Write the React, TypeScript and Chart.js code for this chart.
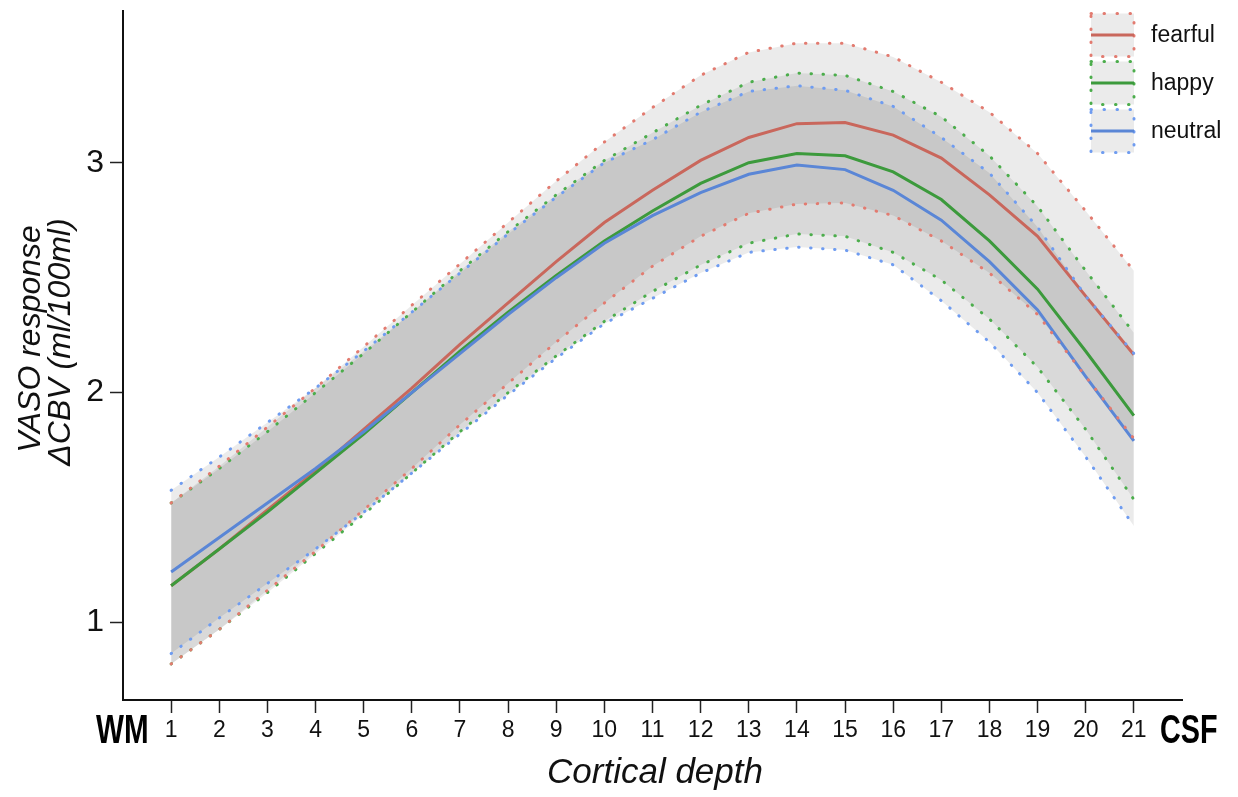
import React, { useEffect, useRef } from 'react';
import { Chart, registerables } from 'chart.js';

Chart.register(...registerables);

// ---------- data ----------
const DEPTHS = [1, 2, 3, 4, 5, 6, 7, 8, 9, 10, 11, 12, 13, 14, 15, 16, 17, 18, 19, 20, 21];
const X_TICKS = DEPTHS;
const Y_TICKS = [1, 2, 3];
const SERIES_NAMES = ['fearful', 'happy', 'neutral'];

const FEARFUL_MEAN = [1.16, 1.32, 1.49, 1.66, 1.84, 2.02, 2.21, 2.39, 2.57, 2.74, 2.88, 3.01, 3.11, 3.17, 3.175, 3.12, 3.02, 2.86, 2.68, 2.42, 2.165];
const FEARFUL_UPPER = [1.52, 1.68, 1.85, 2.02, 2.2, 2.38, 2.56, 2.74, 2.92, 3.09, 3.24, 3.38, 3.48, 3.52, 3.52, 3.46, 3.35, 3.22, 3.04, 2.79, 2.53];
const FEARFUL_LOWER = [0.82, 0.97, 1.14, 1.31, 1.49, 1.67, 1.86, 2.04, 2.22, 2.39, 2.55, 2.68, 2.78, 2.82, 2.825, 2.77, 2.66, 2.52, 2.34, 2.07, 1.8];

const HAPPY_MEAN = [1.16, 1.32, 1.48, 1.65, 1.82, 2.0, 2.18, 2.35, 2.51, 2.66, 2.79, 2.91, 3.0, 3.04, 3.03, 2.96, 2.84, 2.66, 2.45, 2.18, 1.9];
const HAPPY_UPPER = [1.52, 1.67, 1.83, 2.0, 2.17, 2.35, 2.53, 2.7, 2.86, 3.01, 3.13, 3.25, 3.35, 3.39, 3.38, 3.31, 3.2, 3.03, 2.81, 2.53, 2.26];
const HAPPY_LOWER = [0.82, 0.97, 1.13, 1.3, 1.47, 1.65, 1.83, 2.0, 2.16, 2.31, 2.44, 2.555, 2.65, 2.69, 2.68, 2.61, 2.49, 2.32, 2.11, 1.84, 1.535];

const NEUTRAL_MEAN = [1.22, 1.37, 1.52, 1.67, 1.83, 2.0, 2.17, 2.34, 2.5, 2.65, 2.77, 2.87, 2.95, 2.99, 2.97, 2.88, 2.75, 2.57, 2.36, 2.07, 1.79];
const NEUTRAL_UPPER = [1.575, 1.72, 1.87, 2.02, 2.18, 2.35, 2.52, 2.69, 2.85, 3.0, 3.1, 3.22, 3.31, 3.335, 3.315, 3.245, 3.11, 2.955, 2.72, 2.42, 2.17];
const NEUTRAL_LOWER = [0.865, 1.02, 1.17, 1.32, 1.48, 1.65, 1.82, 1.99, 2.15, 2.3, 2.41, 2.52, 2.61, 2.633, 2.62, 2.556, 2.4, 2.22, 2.0, 1.72, 1.42];

// ---------- styles ----------
const LINE_COLORS = ['#c9675c', '#3c9a3c', '#5a86d6'];
const DOT_COLORS = ['#e27b70', '#4cad4c', '#6f9cf0'];
const BAND_FILL = 'rgba(0,0,0,0.08)';
const FONT = '"Liberation Sans", Arial, Helvetica, sans-serif';

const toPts = (ys: number[]) => DEPTHS.map((x, i) => ({ x, y: ys[i] }));

const bandSet = (ys: number[], idx: number, fill: any, order: number) => ({
  data: toPts(ys),
  borderColor: DOT_COLORS[idx],
  borderWidth: 3,
  borderDash: [0.5, 11.5],
  borderCapStyle: 'round',
  backgroundColor: BAND_FILL,
  fill,
  pointRadius: 0,
  tension: 0,
  order,
});

const meanSet = (ys: number[], idx: number, order: number) => ({
  data: toPts(ys),
  borderColor: LINE_COLORS[idx],
  borderWidth: 3,
  fill: false,
  pointRadius: 0,
  tension: 0,
  order,
});

function drawCondensed(ctx: CanvasRenderingContext2D, text: string, x: number, y: number, sx: number) {
  ctx.save();
  ctx.translate(x, y);
  ctx.scale(sx, 1);
  ctx.textAlign = 'left';
  ctx.textBaseline = 'alphabetic';
  ctx.fillText(text, 0, 0);
  ctx.restore();
}

const decorPlugin = {
  id: 'decor',
  afterDraw(chart: any) {
    const ctx: CanvasRenderingContext2D = chart.ctx;
    ctx.save();
    ctx.fillStyle = '#000';

    // WM / CSF end labels
    ctx.font = `bold 40px ${FONT}`;
    drawCondensed(ctx, 'WM', 96, 743, 0.74);
    drawCondensed(ctx, 'CSF', 1160, 743, 0.72);

    // y title
    ctx.font = `italic 32px ${FONT}`;
    ctx.textAlign = 'center';
    ctx.textBaseline = 'middle';
    ctx.fillStyle = '#111';
    ctx.save();
    ctx.translate(31, 339);
    ctx.rotate(-Math.PI / 2);
    ctx.fillText('VASO response', 0, 0);
    ctx.restore();
    ctx.save();
    ctx.translate(61, 342);
    ctx.rotate(-Math.PI / 2);
    ctx.fillText('\u0394CBV (ml/100ml)', 0, 0);
    ctx.restore();

    // x title
    ctx.font = `italic 35px ${FONT}`;
    ctx.textAlign = 'center';
    ctx.textBaseline = 'middle';
    ctx.fillText('Cortical depth', 655, 773);

    // legend
    const centers = [35, 83, 131];
    const bx0 = 1091;
    const bx1 = 1134;
    const half = 21.5;
    SERIES_NAMES.forEach((name, i) => {
      const cy = centers[i];
      ctx.fillStyle = '#ebebeb';
      ctx.fillRect(bx0, cy - half, bx1 - bx0, half * 2);
      ctx.save();
      ctx.strokeStyle = DOT_COLORS[i];
      ctx.lineWidth = 3;
      ctx.lineCap = 'round';
      ctx.setLineDash([0.5, 12.5]);
      ctx.strokeRect(bx0, cy - half, bx1 - bx0, half * 2);
      ctx.restore();
      ctx.save();
      ctx.strokeStyle = LINE_COLORS[i];
      ctx.lineWidth = 3;
      ctx.beginPath();
      ctx.moveTo(bx0, cy);
      ctx.lineTo(bx1, cy);
      ctx.stroke();
      ctx.restore();
      ctx.fillStyle = '#111';
      ctx.font = `23px ${FONT}`;
      ctx.textAlign = 'left';
      ctx.textBaseline = 'middle';
      ctx.fillText(name, 1151, cy + 1);
    });
    ctx.restore();
  },
};

export default function App() {
  const ref = useRef<HTMLCanvasElement | null>(null);

  useEffect(() => {
    if (!ref.current) return;
    const chart = new Chart(ref.current, {
      type: 'line',
      data: {
        datasets: [
          bandSet(FEARFUL_UPPER, 0, '+1', 1),
          bandSet(FEARFUL_LOWER, 0, false, 1),
          bandSet(HAPPY_UPPER, 1, '+1', 1),
          bandSet(HAPPY_LOWER, 1, false, 1),
          bandSet(NEUTRAL_UPPER, 2, '+1', 1),
          bandSet(NEUTRAL_LOWER, 2, false, 1),
          meanSet(FEARFUL_MEAN, 0, 4),
          meanSet(HAPPY_MEAN, 1, 3),
          meanSet(NEUTRAL_MEAN, 2, 2),
        ] as any,
      },
      options: {
        animation: false,
        responsive: false,
        devicePixelRatio: 1,
        layout: { padding: { top: 11, right: 56, left: 0, bottom: 0 } },
        plugins: {
          legend: { display: false },
          tooltip: { enabled: false },
          filler: { drawTime: 'beforeDatasetsDraw' },
        } as any,
        scales: {
          x: {
            type: 'linear',
            min: 0,
            max: 22,
            afterBuildTicks: (s: any) => {
              s.ticks = X_TICKS.map((v) => ({ value: v }));
            },
            afterFit: (s: any) => {
              s.height = 97;
              s.paddingLeft = 0;
              s.paddingRight = 0;
            },
            grid: { drawOnChartArea: false, drawTicks: true, tickLength: 13, tickColor: '#222', tickWidth: 1.5 },
            border: { display: true, color: '#111', width: 2 },
            ticks: { font: { family: FONT, size: 23 }, color: '#111', padding: 4, autoSkip: false, maxRotation: 0 },
          },
          y: {
            type: 'linear',
            min: 0.663,
            max: 3.66,
            afterBuildTicks: (s: any) => {
              s.ticks = Y_TICKS.map((v) => ({ value: v }));
            },
            afterFit: (s: any) => {
              s.width = 123;
              s.paddingTop = 0;
              s.paddingBottom = 0;
            },
            grid: { drawOnChartArea: false, drawTicks: true, tickLength: 13, tickColor: '#222', tickWidth: 1.5 },
            border: { display: true, color: '#111', width: 2 },
            ticks: { font: { family: FONT, size: 32 }, color: '#111', padding: 6 },
          },
        } as any,
      },
      plugins: [decorPlugin],
    });
    return () => chart.destroy();
  }, []);

  return (
    <div style={{ position: 'absolute', left: 0, top: 0, width: 1238, height: 797, background: '#fff' }}>
      <canvas ref={ref} width={1238} height={797} style={{ display: 'block', width: 1238, height: 797 }} />
    </div>
  );
}
